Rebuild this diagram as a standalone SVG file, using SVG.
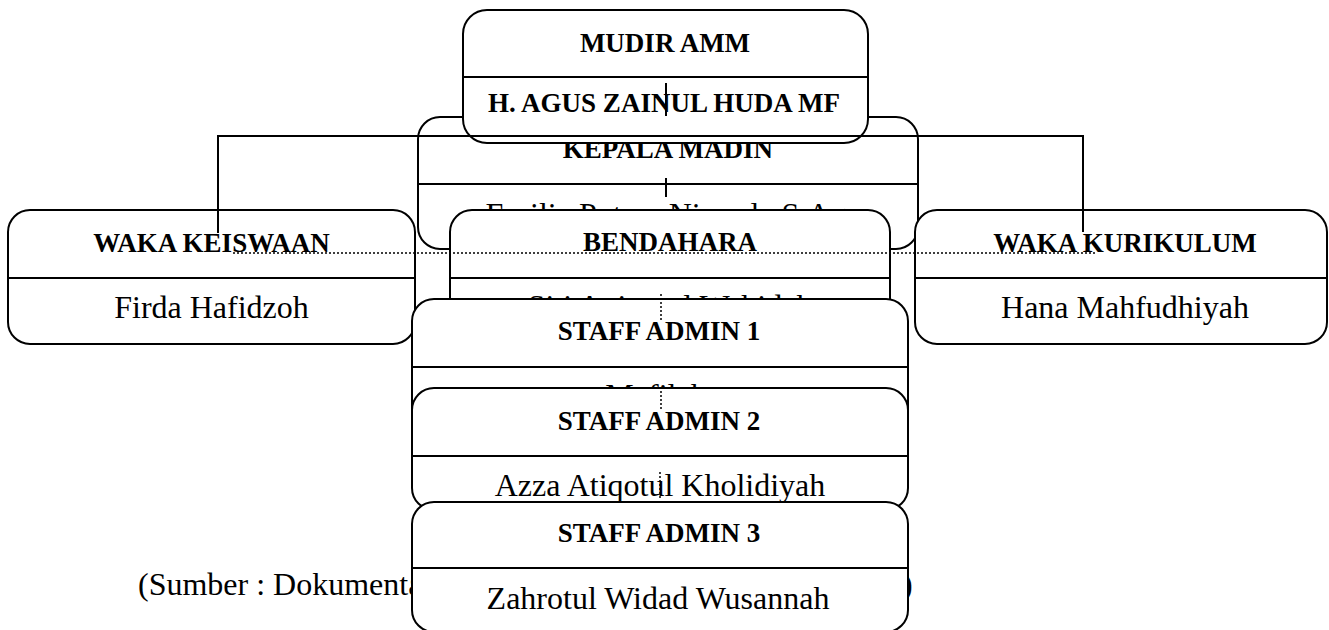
<svg xmlns="http://www.w3.org/2000/svg" width="1329" height="630" viewBox="0 0 1329 630">
<style>
.box{fill:#fff;stroke:#000;stroke-width:2}
.div{stroke:#000;stroke-width:2}
.t{font-family:"Liberation Serif","Times New Roman",serif;font-weight:bold;font-size:27px;text-anchor:middle;fill:#000}
.n{font-family:"Liberation Serif","Times New Roman",serif;font-size:32px;text-anchor:middle;fill:#000}
.cap{font-family:"Liberation Serif","Times New Roman",serif;font-size:32px;fill:#000}
.c{stroke:#000;stroke-width:2;fill:none}
.d{stroke:#000;stroke-width:1.5;stroke-dasharray:2 2;fill:none}
</style>
<rect width="1329" height="630" fill="#fff"/>
<g id="caption">
<text class="cap" x="138" y="595">(Sumber : Dokumentasi</text>
<text class="cap" x="902" y="595">)</text>
</g>
<g id="kepala-madin">
<rect class="box" x="418" y="117" width="500" height="132" rx="22"/>
<line class="div" x1="418" y1="184" x2="918" y2="184"/>
<text class="t" x="668" y="158">KEPALA MADIN</text>
<text class="n" x="666" y="225">Emilia Putera Nirmala S.Ag</text>
</g>
<g id="mudir-amm">
<rect class="box" x="463" y="10" width="405" height="133" rx="24"/>
<line class="div" x1="463" y1="77" x2="868" y2="77"/>
<text class="t" x="665" y="52">MUDIR AMM</text>
<text class="t" x="664" y="112">H. AGUS ZAINUL HUDA MF</text>
</g>
<g id="waka-keiswaan">
<rect class="box" x="8" y="210" width="407" height="134" rx="22"/>
<line class="div" x1="8" y1="278" x2="415" y2="278"/>
<text class="t" x="211.5" y="252">WAKA KEISWAAN</text>
<text class="n" x="211.5" y="318">Firda Hafidzoh</text>
</g>
<g id="waka-kurikulum">
<rect class="box" x="915" y="210" width="412" height="134" rx="22"/>
<line class="div" x1="915" y1="278" x2="1327" y2="278"/>
<text class="t" x="1125" y="252">WAKA KURIKULUM</text>
<text class="n" x="1125" y="318">Hana Mahfudhiyah</text>
</g>
<g id="bendahara">
<rect class="box" x="450" y="210" width="440" height="134" rx="22"/>
<line class="div" x1="450" y1="278" x2="890" y2="278"/>
<text class="t" x="670" y="251">BENDAHARA</text>
<text class="n" x="670" y="317">Siti Aqiqotul Wahidah</text>
</g>
<g id="staff-admin-1">
<rect class="box" x="412" y="299" width="496" height="134" rx="22"/>
<line class="div" x1="412" y1="367" x2="908" y2="367"/>
<text class="t" x="659" y="340">STAFF ADMIN 1</text>
<text class="n" x="656" y="406">Mafilah</text>
</g>
<g id="staff-admin-2">
<rect class="box" x="412" y="388" width="496" height="122" rx="22"/>
<line class="div" x1="412" y1="456" x2="908" y2="456"/>
<text class="t" x="659" y="430">STAFF ADMIN 2</text>
<text class="n" x="660" y="496">Azza Atiqotul Kholidiyah</text>
</g>
<g id="staff-admin-3">
<rect class="box" x="412" y="502" width="496" height="130" rx="22"/>
<line class="div" x1="412" y1="568" x2="908" y2="568"/>
<text class="t" x="659" y="542">STAFF ADMIN 3</text>
<text class="n" x="658" y="609">Zahrotul Widad Wusannah</text>
</g>
<g id="connectors">
<line class="c" x1="666" y1="83" x2="666" y2="116"/>
<polyline class="c" points="218,233 218,136 1083,136 1083,232"/>
<line class="c" x1="666" y1="178" x2="666" y2="197"/>
<line class="d" x1="233" y1="253" x2="1097" y2="253"/>
<line class="d" x1="661" y1="294" x2="661" y2="322"/>
<line class="d" x1="661" y1="387" x2="661" y2="410"/>
<line class="d" x1="660" y1="472" x2="660" y2="498"/>
</g>
</svg>
